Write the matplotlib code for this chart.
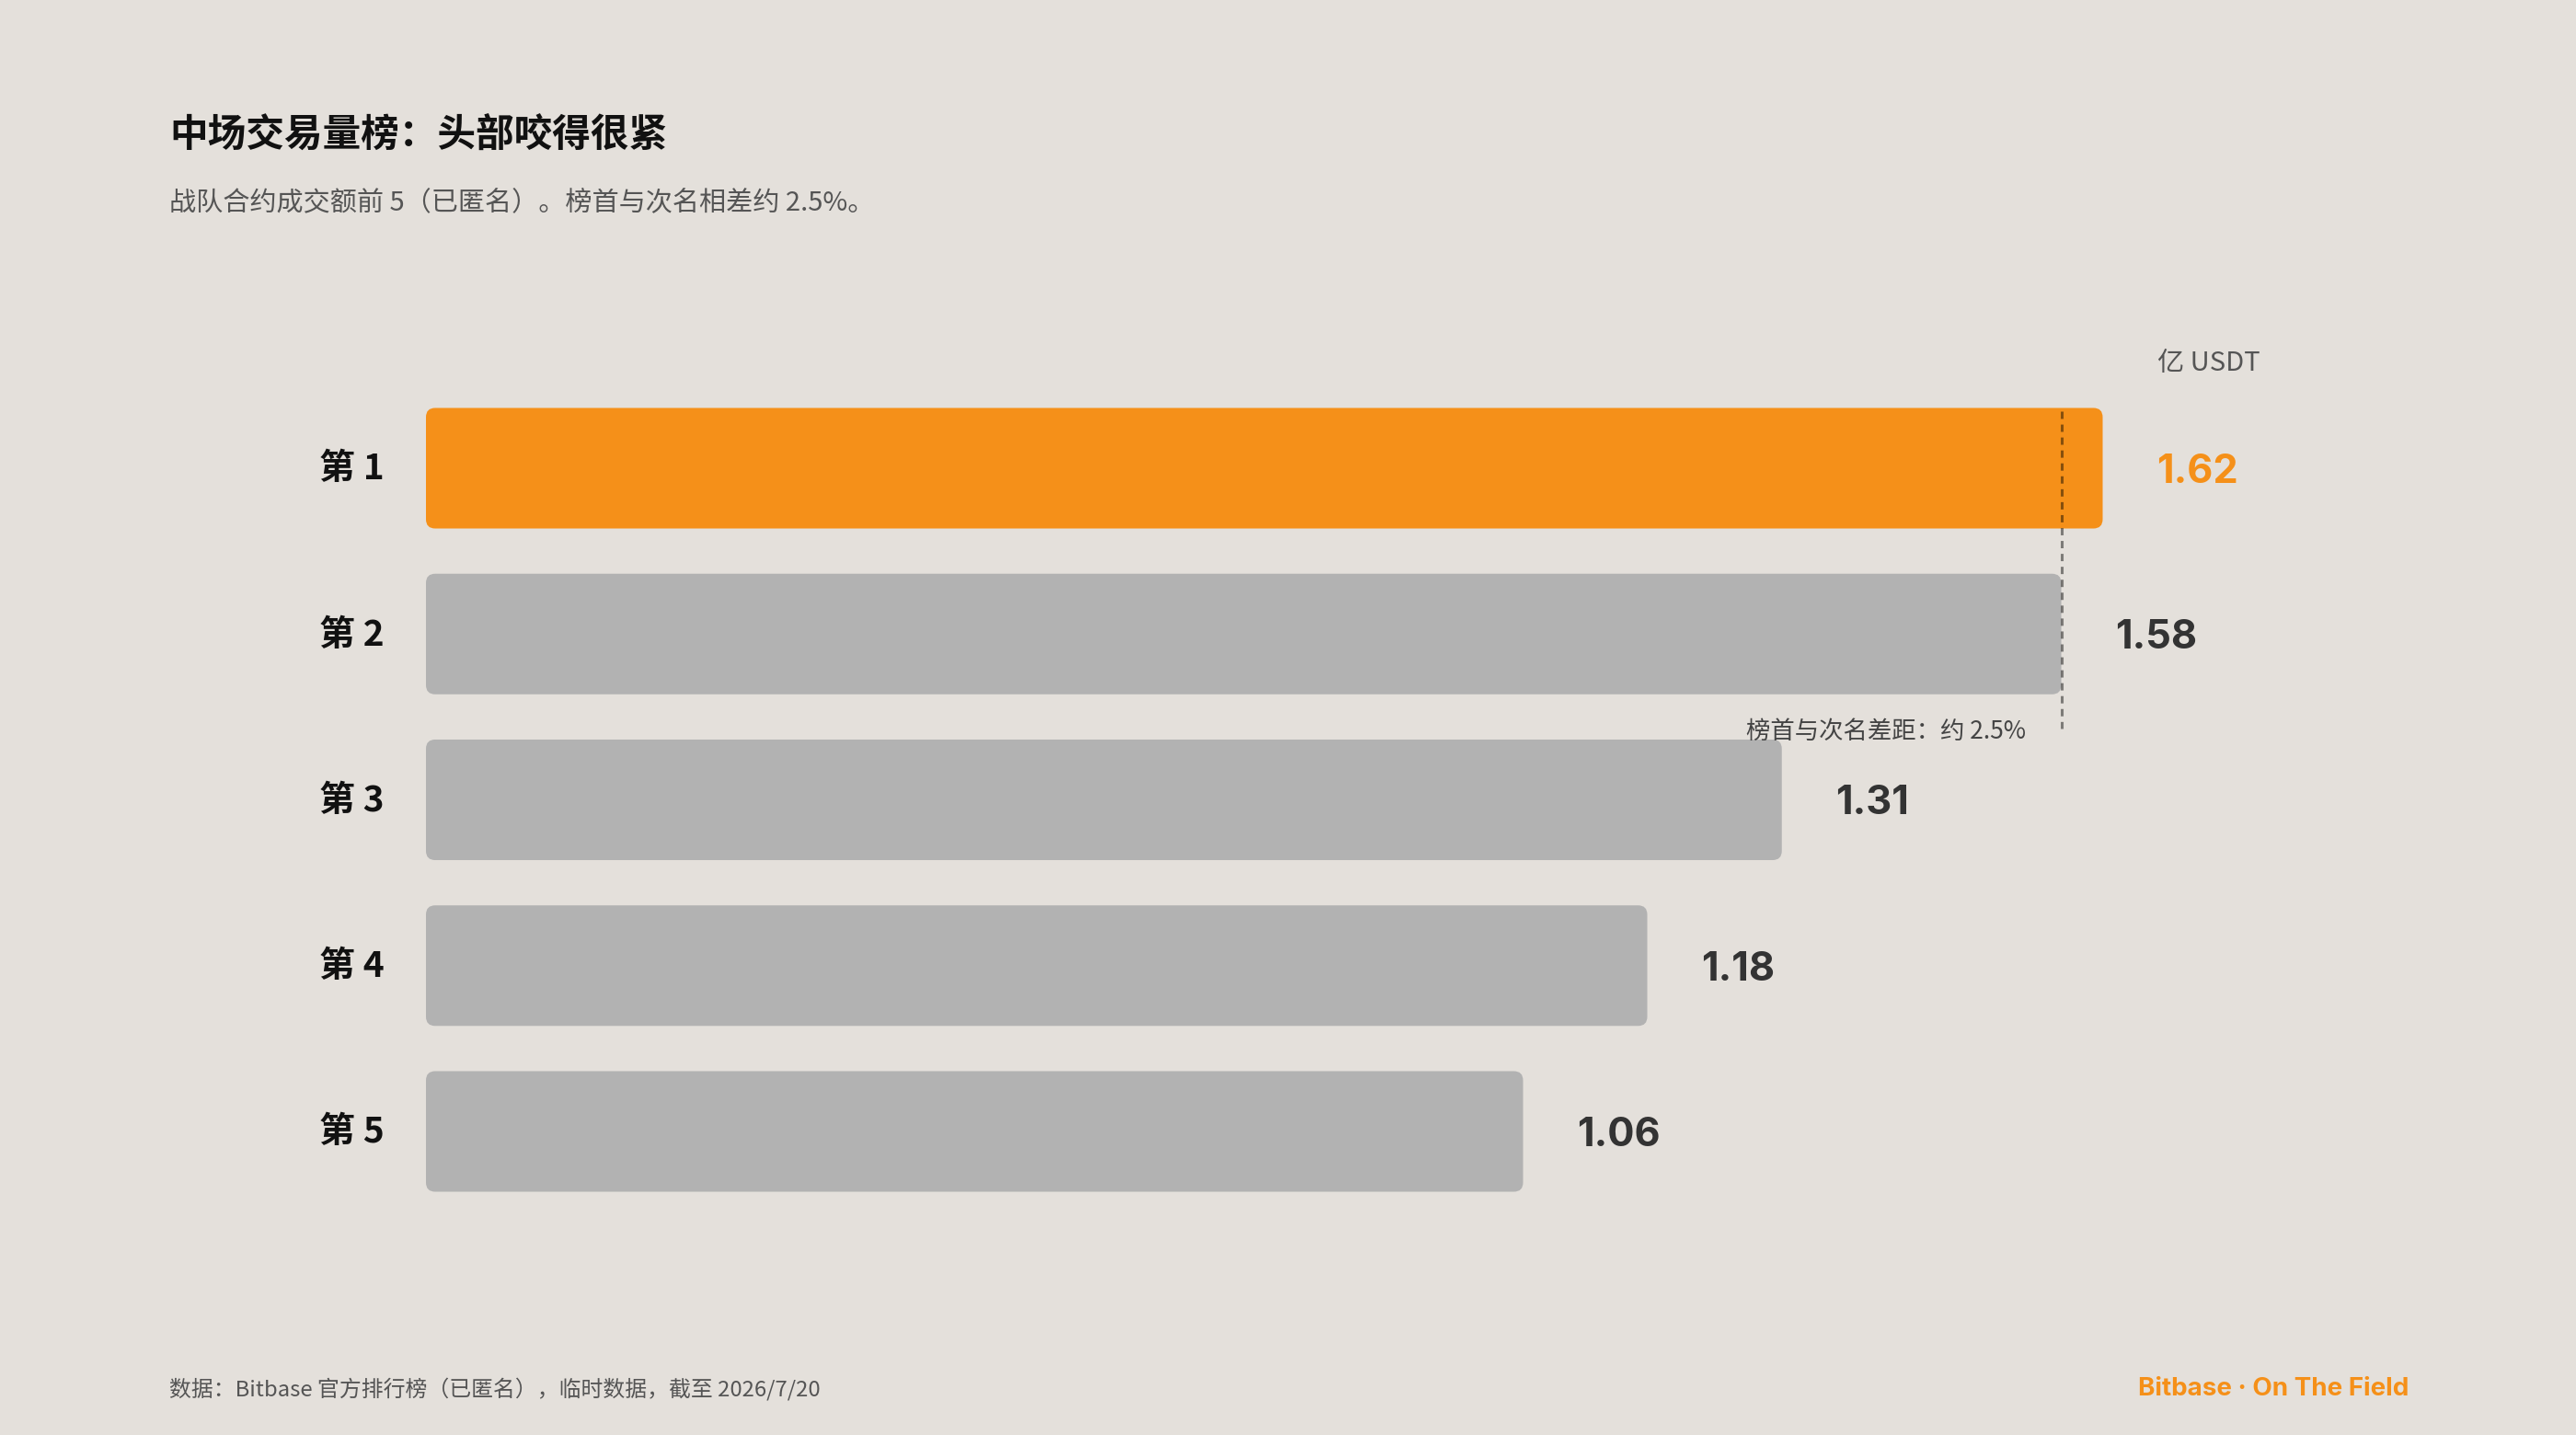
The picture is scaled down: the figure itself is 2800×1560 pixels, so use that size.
import matplotlib
matplotlib.use("Agg")
import matplotlib.pyplot as plt
from matplotlib.patches import FancyBboxPatch

# ---- data ----
categories = ["第 1", "第 2", "第 3", "第 4", "第 5"]
values = [1.62, 1.58, 1.31, 1.18, 1.06]
value_labels = ["1.62", "1.58", "1.31", "1.18", "1.06"]
title = "中场交易量榜：头部咬得很紧"
subtitle = "战队合约成交额前 5（已匿名）。榜首与次名相差约 2.5%。"
unit_label = "亿 USDT"
gap_label = "榜首与次名差距：约 2.5%"
source_label = "数据：Bitbase 官方排行榜（已匿名），临时数据，截至 2026/7/20"
brand_label = "Bitbase · On The Field"

# ---- style ----
BG = "#E4E0DB"
ORANGE = "#F59019"
GREY = "#B2B2B2"
DARK = "#333333"
MUTED = "#555555"
CJK = ["Noto Sans CJK SC", "DejaVu Sans"]
NUM = ["Inter", "Noto Sans CJK SC", "DejaVu Sans"]

plt.rcParams['font.family'] = CJK

W, H, DPI = 2800, 1560, 200
fig = plt.figure(figsize=(W / DPI, H / DPI), dpi=DPI, facecolor=BG)

def fx(px):
    return px / W

def fy(py):
    return 1 - py / H

# axes: x=0 at px 463, 2250 px for 2.0 units; y: -1 at 328.75 px, 5 at 1410.25 px
ax = fig.add_axes([fx(463), fy(1410.25), 2250 / W, 1081.5 / H])
ax.set_facecolor(BG)
ax.set_xlim(0, 2.0)
ax.set_ylim(5, -1)

ypos = list(range(len(categories)))
colors = [ORANGE] + [GREY] * (len(values) - 1)
bar_h = 0.727
bars = ax.barh(ypos, values, height=bar_h, color=colors)

# replace with rounded bars of same geometry
px_per_x = 2250 / 2.0
px_per_y = 1081.5 / 6
radius_px = 10
aspect = px_per_x / px_per_y
for b, c in zip(bars, colors):
    x0, y0 = b.get_x(), b.get_y()
    w, h = b.get_width(), b.get_height()
    b.set_visible(False)
    p = FancyBboxPatch((x0, y0), w, h,
                       boxstyle=f"round,pad=0,rounding_size={radius_px / px_per_x}",
                       mutation_aspect=aspect, facecolor=c, edgecolor="none", zorder=2)
    ax.add_patch(p)

# category labels
ax.set_yticks([])
ax.set_xticks([])
for i, lab in enumerate(categories):
    ax.annotate(lab, (0, i), xytext=(-16.3, -0.3), textcoords="offset points",
                ha="right", va="center", fontsize=14, fontweight="bold",
                color="#111111", family=CJK, annotation_clip=False)
for s in ax.spines.values():
    s.set_visible(False)

# value labels
for i, (v, lab) in enumerate(zip(values, value_labels)):
    ax.annotate(lab, (v, i), xytext=(21, -1.6), textcoords="offset points",
                ha="left", va="center", fontsize=15.6, fontweight="bold",
                color=ORANGE if i == 0 else DARK, family=NUM)

# dashed reference line at second place
ax.vlines(values[1], -bar_h / 2 + 0.02, 1.57, colors="black", alpha=0.45,
          linewidth=1.1, linestyles=(0, (2.6, 2.0)), zorder=3)
ax.annotate(gap_label, (values[1], 1.565), xytext=(-14, -1.4), textcoords="offset points",
            ha="right", va="center", fontsize=9.5, color="#444444")

# texts
fig.text(fx(184), fy(148), title, fontsize=15, fontweight="bold", color="#111111",
         ha="left", va="center")
fig.text(fx(184), fy(220), subtitle, fontsize=10.5, color=MUTED, ha="left", va="center")
fig.text(fx(2345), fy(395), unit_label, fontsize=10.5, color=MUTED, ha="left", va="center")
fig.text(fx(184), fy(1510), source_label, fontsize=8.6, color=MUTED, ha="left", va="center")
fig.text(fx(2618), fy(1510), brand_label, fontsize=10, fontweight="bold", color=ORANGE,
         ha="right", va="center", family=NUM)

fig.savefig("out.png", dpi=DPI, facecolor=BG)
